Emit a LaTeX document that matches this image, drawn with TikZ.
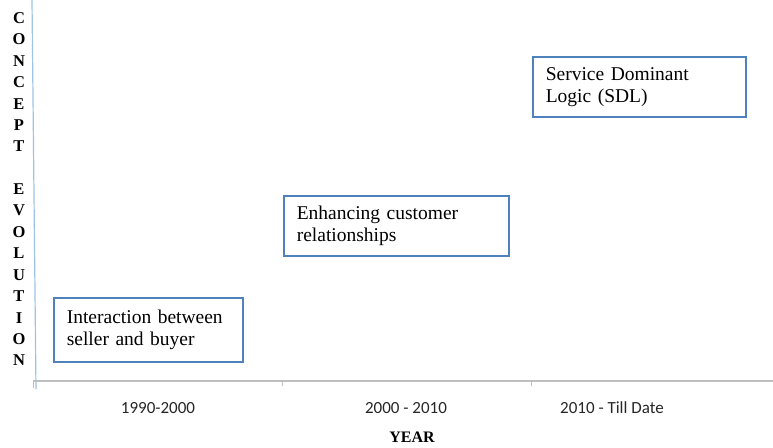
\documentclass[tikz,border=0pt]{standalone}
\usepackage{fontspec}
\setmainfont{Liberation Serif}
\newfontfamily\calfont{Carlito}
\definecolor{boxblue}{HTML}{4F81BD}
\definecolor{axisgray}{HTML}{BFBFBF}
\definecolor{vblue}{HTML}{9DC3E6}
\definecolor{labgray}{HTML}{262626}
\begin{document}
\begin{tikzpicture}[x=1pt,y=-1pt,
  conceptbox/.style={draw=boxblue,line width=1.6pt,fill=white,anchor=north west,
    align=left,inner xsep=13pt,inner ysep=0pt,
    font=\fontsize{19.5}{22}\selectfont},
  yearlab/.style={font=\calfont\fontsize{17}{20}\selectfont,text=labgray,anchor=base},
  vletter/.style={font=\bfseries\fontsize{16.5}{16.5}\selectfont,anchor=center,inner sep=0pt},
  axisline/.style={draw=axisgray,line width=1.5pt},
  tickline/.style={draw=axisgray,line width=1pt}
]
\useasboundingbox (0,0) rectangle (773,447);
% vertical axis
\coordinate (vtop) at (32,0);
\coordinate (vbot) at (36,389);
\draw[vblue,line width=1.2pt] (vtop) -- (vbot);
% horizontal axis
\coordinate (hl) at (33,381);
\coordinate (hr) at (773,381);
\draw[axisline] (hl) -- (hr);
\coordinate (t0) at (33,381);
\coordinate (t0b) at (33,388);
\coordinate (t1) at (282,381);
\coordinate (t1b) at (282,386);
\coordinate (t2) at (531,381);
\coordinate (t2b) at (531,386);
\draw[tickline] (t0) -- (t0b);
\draw[tickline] (t1) -- (t1b);
\draw[tickline] (t2) -- (t2b);
% vertical label
\foreach \l/\i in {C/0,O/1,N/2,C/3,E/4,P/5,T/6,E/8,V/9,O/10,L/11,U/12,T/13,I/14,O/15,N/16}{
  \node[vletter] (v\i) at (19,{18+21.4*\i}) {\l};
}
% boxes
\node[conceptbox,text width=163pt,minimum height=64pt] (b1) at (53,297)
  {Interaction between\\ seller and buyer};
\node[conceptbox,text width=199pt,minimum height=60pt] (b2) at (283,195)
  {Enhancing customer\\ relationships};
\node[conceptbox,text width=187pt,minimum height=60pt] (b3) at (532,56)
  {Service Dominant\\ Logic (SDL)};
% year labels
\node[yearlab] (y1) at (158,413) {1990-2000};
\node[yearlab] (y2) at (406,413) {2000 - 2010};
\node[yearlab] (y3) at (612,413) {2010 - Till Date};
\node[font=\bfseries\fontsize{16}{16}\selectfont,anchor=base] (yr) at (412,442) {YEAR};
\end{tikzpicture}
\end{document}
